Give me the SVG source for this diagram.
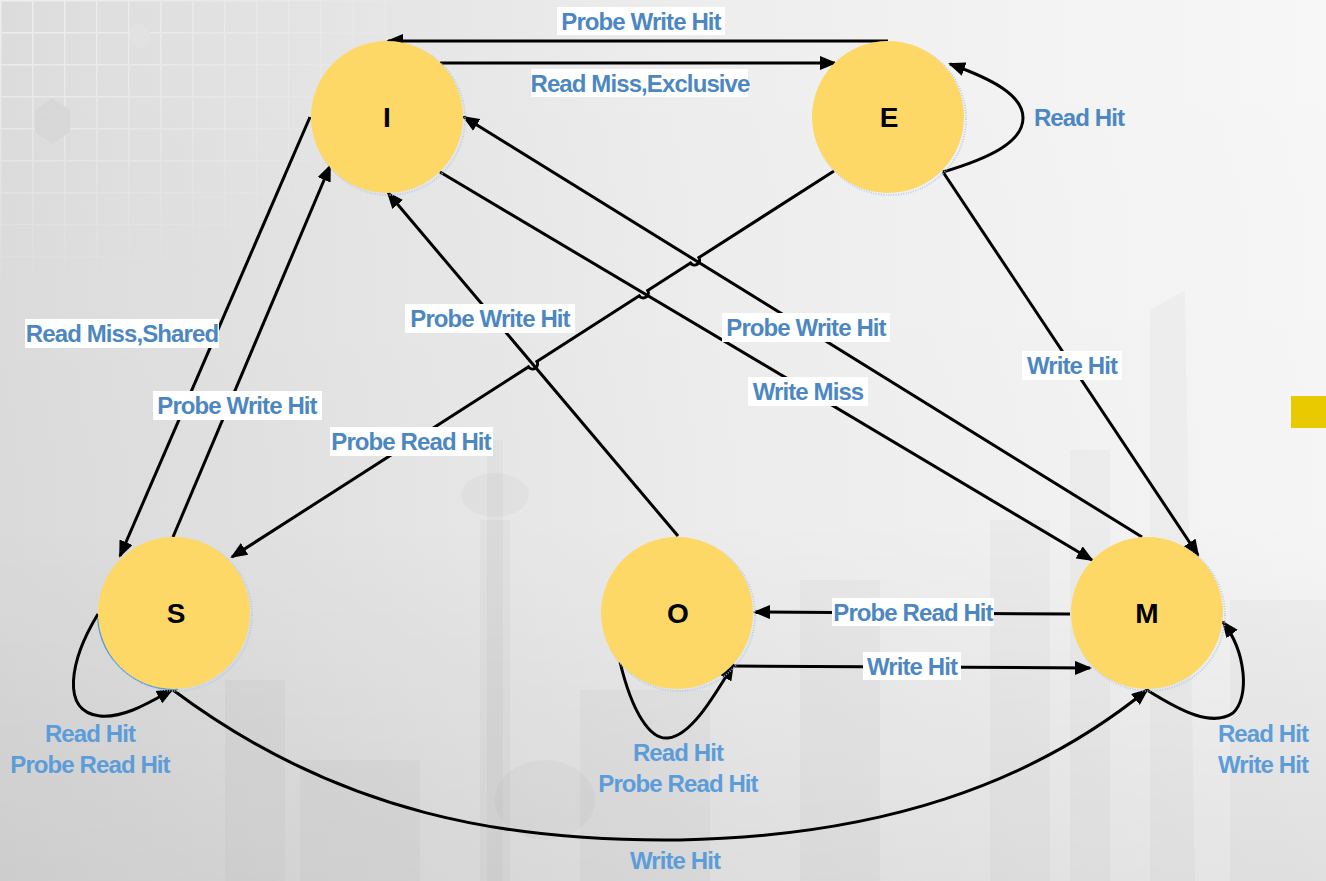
<svg xmlns="http://www.w3.org/2000/svg" width="1326" height="881" viewBox="0 0 1326 881">
  <defs>
    <linearGradient id="bgH" x1="0" y1="0" x2="1" y2="0">
      <stop offset="0" stop-color="#dcdcdd"/>
      <stop offset="0.55" stop-color="#eeeeef"/>
      <stop offset="1" stop-color="#f7f7f7"/>
    </linearGradient>
    <linearGradient id="bgV" x1="0" y1="0" x2="0" y2="1">
      <stop offset="0" stop-color="#000" stop-opacity="0"/>
      <stop offset="0.6" stop-color="#000" stop-opacity="0.01"/>
      <stop offset="1" stop-color="#000" stop-opacity="0.07"/>
    </linearGradient>
    <radialGradient id="gridFade" cx="0" cy="0" r="1" gradientUnits="objectBoundingBox">
      <stop offset="0" stop-color="#fff" stop-opacity="0.8"/>
      <stop offset="0.7" stop-color="#fff" stop-opacity="0.3"/>
      <stop offset="1" stop-color="#fff" stop-opacity="0"/>
    </radialGradient>
    <mask id="gridMask">
      <rect x="0" y="0" width="460" height="300" fill="url(#gridFade)"/>
    </mask>
    <pattern id="grid" x="0" y="0" width="32" height="32" patternUnits="userSpaceOnUse">
      <path d="M0,0.5 H32 M0.5,0 V32" stroke="#f3f3f3" stroke-width="2" fill="none"/>
    </pattern>
    <marker id="arrow" markerUnits="userSpaceOnUse" markerWidth="18" markerHeight="14" refX="15" refY="7" orient="auto">
      <path d="M0,0 L17,7 L0,14 z" fill="#000"/>
    </marker>
    <style>
      .edge { fill: none; stroke: #000; stroke-width: 3; marker-end: url(#arrow); }
      .state { fill: #fdd866; }
      .halo { fill: none; stroke: #a9c9ec; stroke-width: 2; stroke-dasharray: 1 1.5; opacity: 0.8; }
      .name { font-family: "Liberation Sans", Arial, sans-serif; font-weight: bold; font-size: 28px; fill: #000; text-anchor: middle; }
      .lbl { font-family: "Liberation Sans", Arial, sans-serif; font-weight: bold; font-size: 24px; fill: #4d87c2; text-anchor: middle; letter-spacing: -0.9px; }
      .lbl2 { font-family: "Liberation Sans", Arial, sans-serif; font-weight: bold; font-size: 24px; fill: #5c9dd9; text-anchor: middle; letter-spacing: -0.9px; }
      .box { fill: #fff; }
      .city { fill: #000; opacity: 0.022; }
    </style>
  </defs>

  <!-- backdrop -->
  <rect width="1326" height="881" fill="url(#bgH)"/>
  <rect width="1326" height="881" fill="url(#bgV)"/>
  <g mask="url(#gridMask)">
    <rect x="0" y="0" width="460" height="300" fill="url(#grid)"/>
    <polygon points="35,110 52,98 70,110 70,132 52,144 35,132" fill="#d2d2d3"/>
    <polygon points="130,30 140,22 150,30 150,42 140,50 130,42" fill="#e4e4e4"/>
  </g>

  <!-- faint skyline -->
  <g id="skyline">
    <rect class="city" x="487" y="440" width="16" height="441"/>
    <ellipse class="city" cx="495" cy="495" rx="34" ry="22"/>
    <rect class="city" x="480" y="520" width="30" height="361"/>
    <rect class="city" x="580" y="690" width="130" height="191"/>
    <ellipse class="city" cx="545" cy="800" rx="50" ry="40"/>
    <rect class="city" x="225" y="680" width="60" height="201"/>
    <rect class="city" x="300" y="760" width="120" height="121"/>
    <rect class="city" x="800" y="580" width="80" height="301"/>
    <rect class="city" x="990" y="520" width="60" height="361"/>
    <polygon class="city" points="1150,310 1185,290 1195,881 1150,881"/>
    <rect class="city" x="1230" y="600" width="96" height="281"/>
    <rect class="city" x="1070" y="450" width="40" height="431"/>
  </g>

  <rect x="1291" y="396" width="35" height="32" fill="#e9c900"/>

  <!-- transitions -->
  <g id="connectors">
    <path class="edge" d="M888,41 L388,41"/>
    <path class="edge" d="M440,63 L835,63"/>
    <path class="edge" d="M943,172 C990,158 1023,142 1023,118 C1023,95 992,79 950,64"/>
    <path class="edge" d="M310,117 L120,556"/>
    <path class="edge" d="M173,537 L330,166"/>
    <path class="edge" d="M678,536 L388,193"/>
    <path class="edge" d="M834,171 L698.9,257.6 A5,5 0 0 1 690.5,263 L647.7,290.4 A5,5 0 0 1 639.3,295.8 L536.9,361.5 A5,5 0 0 1 528.5,366.9 L232,557"/>
    <path class="edge" d="M1142,537 L464,117"/>
    <path class="edge" d="M440,172 L1092,560"/>
    <path class="edge" d="M943,172 L1198,555"/>
    <path class="edge" d="M1070,614 L755,612"/>
    <path class="edge" d="M733,666 L1090,668"/>
    <path class="edge" d="M98,614 C70,660 60,712 100,716 C125,718 150,702 172,690"/>
    <path class="edge" d="M620,662 C632,712 650,740 668,738 C690,736 712,700 733,665"/>
    <path class="edge" d="M1147,690 C1182,712 1212,727 1233,713 C1250,697 1246,652 1223,622"/>
    <path class="edge" d="M173,690 C340,815 510,842 680,840 C880,836 1030,785 1147,690"/>
  </g>

  <!-- states -->
  <g id="node-I">
    <circle class="halo" cx="389" cy="119" r="76"/>
    <circle class="state" cx="387" cy="117" r="76"/>
    <text class="name" x="387" y="127">I</text>
  </g>
  <g id="node-E">
    <circle class="halo" cx="890" cy="119" r="76"/>
    <circle class="state" cx="888" cy="117" r="76"/>
    <text class="name" x="889" y="127">E</text>
  </g>
  <g id="node-S">
    <path d="M98,618 A76,76 0 0 0 178,689" fill="none" stroke="#5b9bd5" stroke-width="2"/>
    <circle class="halo" cx="176" cy="615" r="76"/>
    <circle class="state" cx="174" cy="613" r="76"/>
    <text class="name" x="176" y="623">S</text>
  </g>
  <g id="node-O">
    <circle class="halo" cx="679" cy="615" r="76"/>
    <circle class="state" cx="677" cy="613" r="76"/>
    <text class="name" x="678" y="623">O</text>
  </g>
  <g id="node-M">
    <circle class="halo" cx="1149" cy="615" r="76"/>
    <circle class="state" cx="1147" cy="613" r="76"/>
    <text class="name" x="1147" y="623">M</text>
  </g>

  <!-- transition labels -->
  <g id="labels">
    <rect class="box" x="557" y="7" width="168" height="28"/>
    <text class="lbl" x="641" y="30">Probe Write Hit</text>
    <rect class="box" x="531" y="69" width="217" height="28"/>
    <text class="lbl" x="640" y="92">Read Miss,Exclusive</text>
    <text class="lbl" x="1079" y="126">Read Hit</text>
    <rect class="box" x="25" y="319" width="194" height="29"/>
    <text class="lbl" x="122" y="342">Read Miss,Shared</text>
    <rect class="box" x="153" y="391" width="169" height="29"/>
    <text class="lbl" x="237" y="414">Probe Write Hit</text>
    <rect class="box" x="405" y="304" width="170" height="29"/>
    <text class="lbl" x="490" y="327">Probe Write Hit</text>
    <rect class="box" x="330" y="427" width="163" height="29"/>
    <text class="lbl" x="411" y="450">Probe Read Hit</text>
    <rect class="box" x="722" y="313" width="168" height="29"/>
    <text class="lbl" x="806" y="336">Probe Write Hit</text>
    <rect class="box" x="748" y="377" width="120" height="29"/>
    <text class="lbl" x="808" y="400">Write Miss</text>
    <rect class="box" x="1022" y="351" width="100" height="29"/>
    <text class="lbl" x="1072" y="374">Write Hit</text>
    <rect class="box" x="832" y="598" width="162" height="28"/>
    <text class="lbl" x="913" y="621">Probe Read Hit</text>
    <rect class="box" x="863" y="652" width="98" height="28"/>
    <text class="lbl" x="912" y="675">Write Hit</text>
    <text class="lbl2" x="90" y="742">Read Hit</text>
    <text class="lbl2" x="90" y="773">Probe Read Hit</text>
    <text class="lbl2" x="678" y="761">Read Hit</text>
    <text class="lbl2" x="678" y="792">Probe Read Hit</text>
    <text class="lbl2" x="1263" y="742">Read Hit</text>
    <text class="lbl2" x="1263" y="773">Write Hit</text>
    <text class="lbl2" x="675" y="869">Write Hit</text>
  </g>
</svg>
